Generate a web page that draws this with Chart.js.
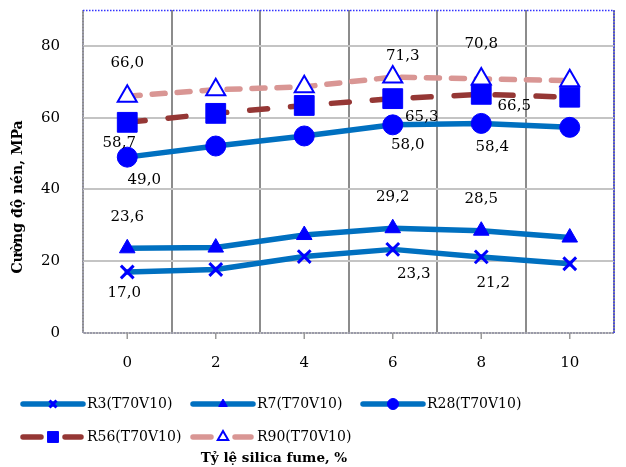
<!DOCTYPE html>
<html>
<head>
<meta charset="utf-8">
<script src="https://cdn.jsdelivr.net/npm/chart.js@4.4.1/dist/chart.umd.min.js"></script>
<style>
html,body{margin:0;padding:0;background:#fff;}
#wrap{width:626px;height:467px;}
</style>
</head>
<body>
<div id="wrap"><canvas id="c" width="626" height="467"></canvas></div>
<script>
// ---- data ----
const categories = ['0', '2', '4', '6', '8', '10'];
const seriesNames = ['R3(T70V10)', 'R7(T70V10)', 'R28(T70V10)', 'R56(T70V10)', 'R90(T70V10)'];
const r3  = [17.0, 17.7, 21.3, 23.3, 21.2, 19.3];
const r7  = [23.6, 23.8, 27.3, 29.2, 28.5, 26.6];
const r28 = [49.0, 52.1, 54.9, 58.0, 58.4, 57.3];
const r56 = [58.7, 61.2, 63.4, 65.3, 66.5, 65.7];
const r90 = [66.0, 67.8, 68.6, 71.3, 70.8, 70.3];
const yTicks = [0, 20, 40, 60, 80];
const labeledIdx = [0, 3, 4];
const xTitle = 'Tỷ lệ silica fume, %';
const yTitle = 'Cường độ nén, MPa';

// large markers must not push the plot area inwards
Chart.registry.getController('line').prototype.getMaxOverflow = function () { return 0; };

// ---- styles ----
const FONT = '"DejaVu Serif", "Liberation Serif", serif';
const lineBlue = '#0070C0';
const mk = '#0000FF';
const styles = [
  {borderColor: lineBlue, borderDash: [], pointStyle: 'crossRot', pointRadius: 9, pointBorderWidth: 3, pointBackgroundColor: mk, pointBorderColor: mk},
  {borderColor: lineBlue, borderDash: [], pointStyle: 'triangle', pointRadius: 9, pointBorderWidth: 1, pointBackgroundColor: mk, pointBorderColor: mk},
  {borderColor: lineBlue, borderDash: [], pointStyle: 'circle', pointRadius: 10, pointBorderWidth: 1, pointBackgroundColor: mk, pointBorderColor: mk},
  {borderColor: '#953735', borderDash: [18, 23], pointStyle: 'rect', pointRadius: 14, pointBorderWidth: 1, pointBackgroundColor: mk, pointBorderColor: mk},
  {borderColor: '#D99694', borderDash: [13, 12], pointStyle: 'triangle', pointRadius: 11, pointBorderWidth: 2, pointBackgroundColor: '#ffffff', pointBorderColor: mk}
];
// label offsets (dx, dy) relative to point, for labeled points
const labelOffsets = [
  [[-3, 21], [21, 25], [12, 26]],
  [[0, -31], [0, -31], [0, -32]],
  [[17, 23], [15, 20], [11, 24]],
  [[-8, 21], [29, 18], [33, 12]],
  [[0, -33], [10, -21], [0, -35]]
];

const seriesData = [r3, r7, r28, r56, r90];
const datasets = seriesData.map((d, i) => Object.assign({
  label: seriesNames[i],
  data: d,
  borderWidth: 5.5,
  borderCapStyle: 'round',
  borderJoinStyle: 'round',
  tension: 0,
  fill: false,
  clip: false,
  pointHoverRadius: 0
}, styles[i]));
datasets.forEach((ds, i) => { ds.order = 5 - i; });

const fmt = v => v.toFixed(1).replace('.', ',');

const customPlugin = {
  id: 'custom',
  beforeDatasetsDraw(chart) {
    const {ctx, chartArea: a, scales} = chart;
    ctx.save();
    ctx.strokeStyle = '#9a9aa8';
    ctx.lineWidth = 2;
    ctx.setLineDash([2, 1]);
    ctx.beginPath();
    ctx.moveTo(a.left, a.top); ctx.lineTo(a.left, a.bottom);
    ctx.lineTo(a.right, a.bottom);
    ctx.stroke();
    ctx.strokeStyle = '#3333ff';
    ctx.lineWidth = 1.5;
    ctx.setLineDash([1.5, 1.5]);
    ctx.beginPath();
    ctx.moveTo(a.left, a.top + 0.5); ctx.lineTo(a.right, a.top + 0.5); ctx.lineTo(a.right, a.bottom);
    ctx.stroke();
    ctx.setLineDash([]);
    ctx.strokeStyle = '#999';
    ctx.lineWidth = 1.5;
    categories.forEach((c, i) => {
      const x = scales.x.getPixelForValue(i);
      ctx.beginPath(); ctx.moveTo(x, a.bottom); ctx.lineTo(x, a.bottom + 6); ctx.stroke();
    });
    ctx.restore();
  },
  afterDatasetsDraw(chart) {
    const {ctx} = chart;
    ctx.save();
    ctx.font = '15px ' + FONT;
    ctx.fillStyle = '#000';
    ctx.textAlign = 'center';
    ctx.textBaseline = 'middle';
    seriesData.forEach((d, si) => {
      const meta = chart.getDatasetMeta(si);
      labeledIdx.forEach((idx, k) => {
        const p = meta.data[idx];
        const off = labelOffsets[si][k];
        ctx.fillText(fmt(d[idx]), p.x + off[0], p.y + off[1]);
      });
    });
    ctx.restore();
  },
  afterDraw(chart) {
    const {ctx} = chart;
    ctx.save();
    ctx.font = 'bold 14px ' + FONT;
    ctx.fillStyle = '#000';
    ctx.textAlign = 'center';
    ctx.textBaseline = 'middle';
    ctx.translate(18, 197);
    ctx.rotate(-Math.PI / 2);
    ctx.fillText(yTitle, 0, 0);
    ctx.restore();

    ctx.save();
    ctx.font = 'bold 13.5px ' + FONT;
    ctx.fillStyle = '#000';
    ctx.textAlign = 'center';
    ctx.textBaseline = 'middle';
    ctx.fillText(xTitle, 274, 458);
    ctx.restore();

    ctx.save();
    const cols = [23, 193, 363];
    const rows = [404, 437];
    datasets.forEach((ds, i) => {
      const x0 = cols[i % 3];
      const y0 = rows[Math.floor(i / 3)];
      const len = 60;
      ctx.save();
      ctx.strokeStyle = ds.borderColor;
      ctx.lineWidth = 5.5;
      ctx.lineCap = 'round';
      ctx.beginPath();
      if (ds.borderDash.length) {
        ctx.moveTo(x0, y0); ctx.lineTo(x0 + 18, y0);
        ctx.moveTo(x0 + len - 18, y0); ctx.lineTo(x0 + len - 2, y0);
      } else {
        ctx.moveTo(x0, y0); ctx.lineTo(x0 + len, y0);
      }
      ctx.stroke();
      ctx.restore();
      ctx.save();
      ctx.fillStyle = ds.pointBackgroundColor;
      ctx.strokeStyle = ds.pointBorderColor;
      ctx.lineWidth = ds.pointBorderWidth;
      Chart.helpers.drawPoint(ctx, {pointStyle: ds.pointStyle, radius: ds.pointRadius * 0.55, borderWidth: ds.pointBorderWidth, rotation: 0}, x0 + 30, y0);
      ctx.restore();
      ctx.font = '14px ' + FONT;
      ctx.fillStyle = '#000';
      ctx.textAlign = 'left';
      ctx.textBaseline = 'middle';
      ctx.fillText(ds.label, x0 + 64, y0);
    });
    ctx.restore();
  }
};

new Chart(document.getElementById('c'), {
  type: 'line',
  data: {labels: categories, datasets},
  options: {
    responsive: false,
    animation: false,
    devicePixelRatio: 1,
    layout: {padding: {left: 0, top: 10, right: 12, bottom: 0}},
    plugins: {legend: {display: false}, tooltip: {enabled: false}},
    scales: {
      x: {
        type: 'category',
        offset: true,
        grid: {offset: true, color: '#8c8c8c', lineWidth: 2, drawTicks: false},
        border: {display: false},
        ticks: {font: {family: FONT, size: 15}, color: '#000', padding: 21},
        afterFit(s) { s.height = 134; s.paddingLeft = 0; s.paddingRight = 0; }
      },
      y: {
        min: 0, max: 90,
        grid: {color: '#c4c4c4', lineWidth: 2, drawTicks: false},
        border: {display: false},
        ticks: {font: {family: FONT, size: 15}, color: '#000', padding: 23},
        afterBuildTicks(s) { s.ticks = yTicks.map(v => ({value: v})); },
        afterFit(s) { s.width = 83; s.paddingTop = 0; s.paddingBottom = 0; }
      }
    }
  },
  plugins: [customPlugin]
});
</script>
</body>
</html>
